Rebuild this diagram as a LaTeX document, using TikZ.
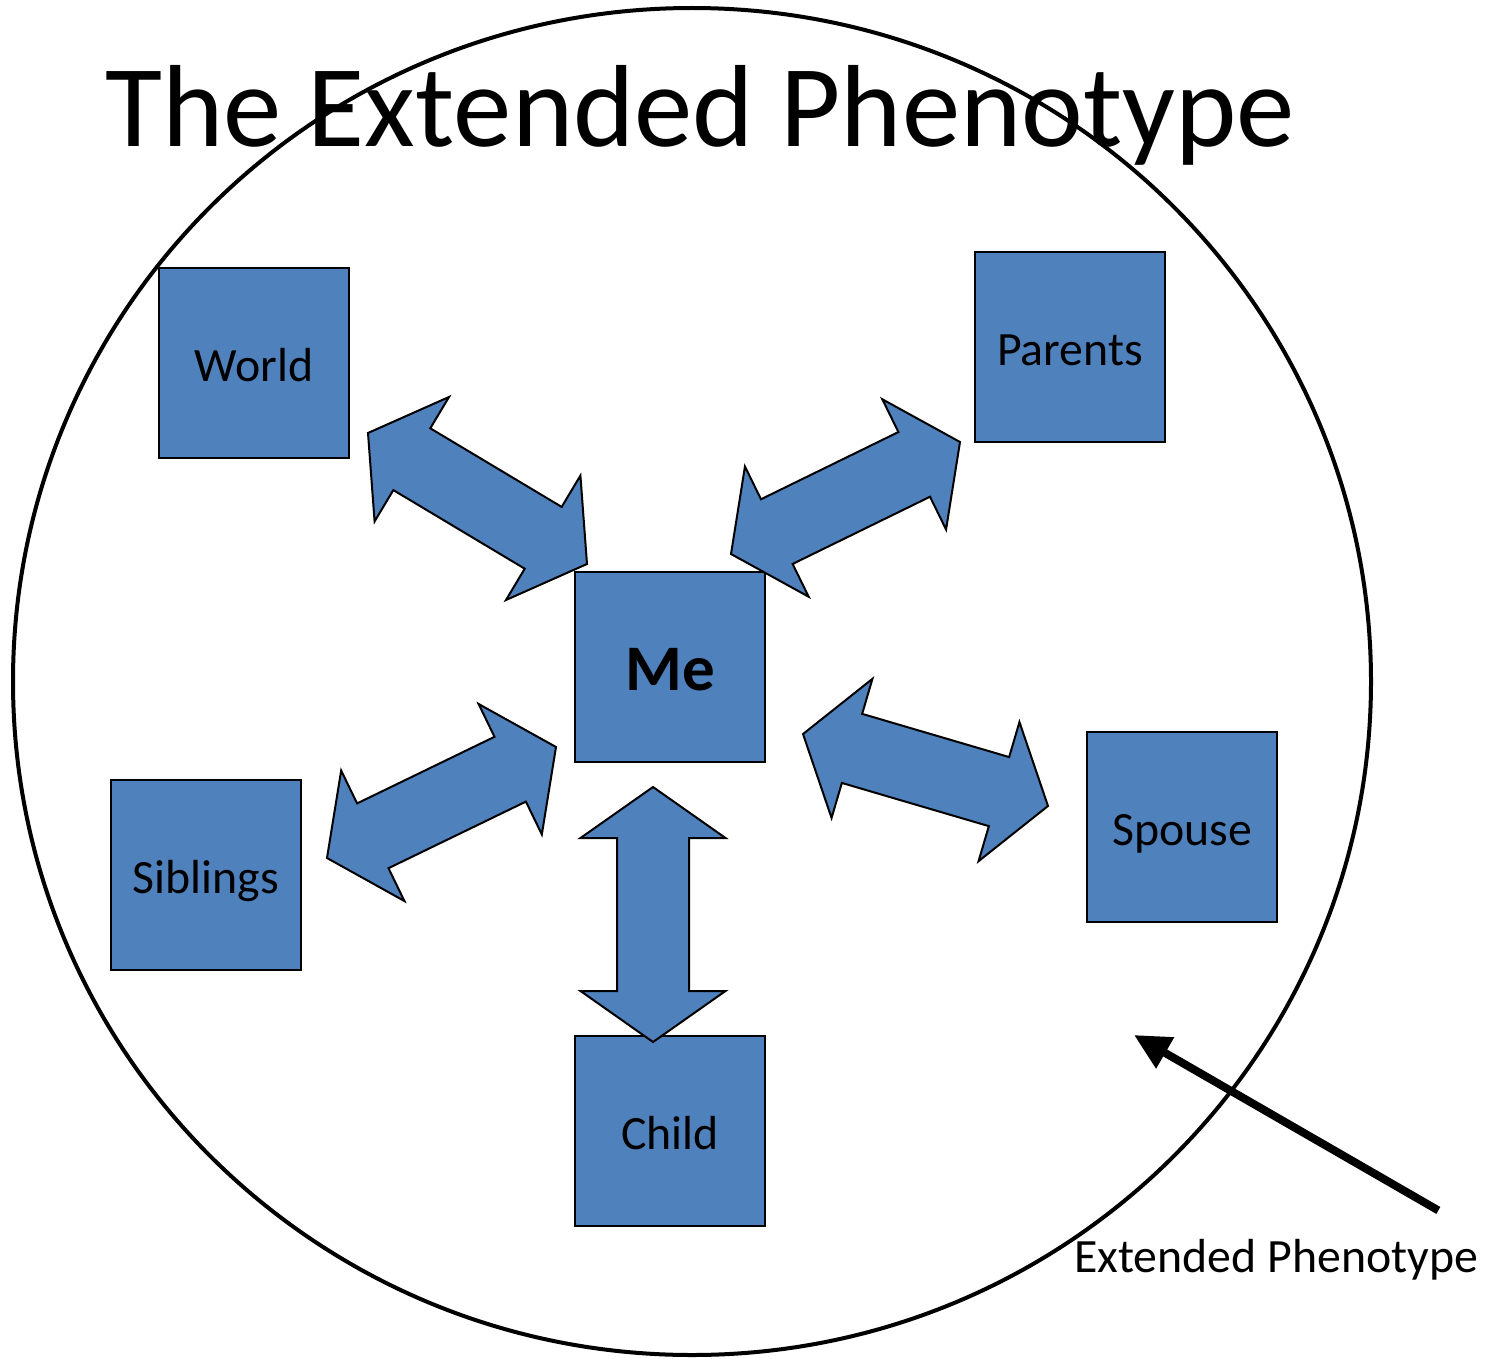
\documentclass[tikz,border=0pt]{standalone}
\usepackage{fontspec}
\setmainfont{Carlito}
\usetikzlibrary{calc,arrows.meta}
\definecolor{boxblue}{HTML}{4F81BD}
\tikzset{
  famBox/.style={draw=black,line width=1pt,fill=boxblue,minimum size=95pt,inner sep=0pt,
    font=\fontsize{23.9}{28}\selectfont,text height=18pt,text depth=0pt},
  blockArrow/.style={draw=black,line width=1pt,fill=boxblue,line join=miter},
  pointer/.style={line width=4pt,-{Triangle[length=18pt,width=17pt]}}
}
% double block arrow between two tips
\newcommand{\twoway}[2]{%
  \coordinate (h1) at ($(#1)!0.2!(#2)$);
  \coordinate (h2) at ($(#1)!0.8!(#2)$);
  \filldraw[blockArrow] (#1) -- ($(h1)!36.25pt!90:(#2)$) -- ($(h1)!18pt!90:(#2)$)
    -- ($(h2)!18pt!-90:(#1)$) -- ($(h2)!36.25pt!-90:(#1)$) -- (#2)
    -- ($(h2)!36.25pt!90:(#1)$) -- ($(h2)!18pt!90:(#1)$)
    -- ($(h1)!18pt!-90:(#2)$) -- ($(h1)!36.25pt!-90:(#2)$) -- cycle;}
\begin{document}
\begin{tikzpicture}[x=0.5pt,y=-0.5pt]
\useasboundingbox (0,0) rectangle (1494,1359);

% phenotype boundary
\draw[line width=2pt] (692,681.5) ellipse [x radius=679,y radius=673.5];

\node[font=\fontsize{58.4}{70}\selectfont,anchor=base] (title) at (700,147) {The Extended Phenotype};

% relatives
\node[famBox] (world) at (254,363) {World};
\node[famBox] (parents) at (1070,347) {Parents};
\node[famBox,font=\fontsize{32.5}{36}\selectfont\bfseries,text height=23pt] (me) at (670,667) {Me};
\node[famBox] (siblings) at (206,875) {Siblings};
\node[famBox] (spouse) at (1182,827) {Spouse};
\node[famBox] (child) at (670,1131) {Child};

% two-way arrows
\coordinate (worldEnd) at (368,433);
\coordinate (meWorld) at (587,564);
\coordinate (meParents) at (731,554);
\coordinate (parentsEnd) at (960,442);
\coordinate (siblingsEnd) at (327,858);
\coordinate (meSiblings) at (556,747);
\coordinate (meSpouse) at (803,734);
\coordinate (spouseEnd) at (1048,806);
\coordinate (meChild) at (653,787);
\coordinate (childEnd) at (653,1042);
\twoway{worldEnd}{meWorld}
\twoway{meParents}{parentsEnd}
\twoway{siblingsEnd}{meSiblings}
\twoway{meSpouse}{spouseEnd}
\twoway{meChild}{childEnd}

% label and pointer
\node[font=\fontsize{23.9}{28}\selectfont,anchor=base,inner sep=0pt] (extLabel) at (1276,1272) {Extended Phenotype};
\coordinate (ptrTip) at (1134,1035);
\draw[pointer] ($(extLabel.north east)+(-40,-28)$) -- (ptrTip);
\end{tikzpicture}
\end{document}
